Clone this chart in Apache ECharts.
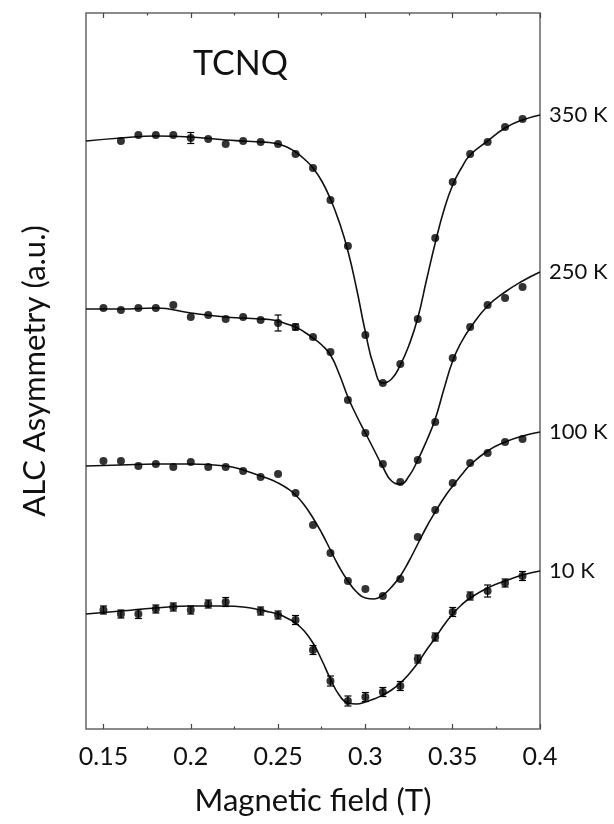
<!DOCTYPE html>
<html>
<head>
<meta charset="utf-8">
<script src="https://cdn.jsdelivr.net/npm/echarts@6/dist/echarts.min.js"></script>
<style>html,body{margin:0;padding:0;background:#fff}#c{width:614px;height:824px}</style>
</head>
<body>
<div id="c"></div>
<script>
// Measured field values (T)
const fieldX = [0.15,0.16,0.17,0.18,0.19,0.20,0.21,0.22,0.23,0.24,0.25,0.26,0.27,0.28,0.29,0.30,0.31,0.32,0.33,0.34,0.35,0.36,0.37,0.38,0.39];
// ALC asymmetry data points (a.u.)
const pts350 = [null,58.8,59.4,59.4,59.4,59.1,59.0,58.5,58.8,58.7,58.5,57.5,56.1,52.9,48.3,39.4,34.6,36.5,41.0,49.1,54.7,57.5,58.7,60.2,61.0];
const pts250 = [42.1,41.9,42.1,42.1,42.4,41.2,41.4,41.0,41.2,40.9,40.6,40.2,39.2,37.7,32.9,29.6,26.5,24.7,26.9,30.7,37.1,40.2,42.4,43.1,44.2];
const pts100 = [26.8,26.8,26.3,26.5,26.2,26.7,26.2,26.2,25.8,25.2,25.5,23.6,20.4,17.6,14.8,14.0,13.3,15.0,19.2,21.9,24.6,26.6,27.6,28.7,29.0];
const pts10  = [11.9,11.5,11.5,12.0,12.2,11.9,12.5,12.7,null,11.8,11.4,10.9,7.9,4.8,2.8,3.2,3.7,4.3,7.0,9.2,11.7,13.3,13.8,14.6,15.3];
// error bars (a.u.)
const err350 = [null,null,null,null,null,0.55,null,null,null,null,null,null,null,null,null,null,null,null,null,null,null,null,null,null,null];
const err250 = [null,null,null,null,null,null,null,null,null,null,0.8,0.3,null,null,null,null,null,null,null,null,null,null,null,null,null];
const err10  = [0.4,0.4,0.45,0.4,0.4,0.4,0.4,0.45,null,0.4,0.4,0.45,0.45,0.5,0.5,0.45,0.45,0.45,0.4,0.4,0.45,0.4,0.6,0.4,0.45];
// fitted curves
const fitX = [0.14,0.16,0.18,0.20,0.22,0.23,0.24,0.245,0.25,0.255,0.26,0.265,0.27,0.275,0.28,0.285,0.29,0.295,0.30,0.305,0.31,0.315,0.32,0.325,0.33,0.335,0.34,0.345,0.35,0.355,0.36,0.37,0.38,0.39,0.40];
const fit350 = [58.8,59.1,59.3,59.2,58.9,58.8,58.7,58.65,58.5,58.2,57.7,57.0,56.1,54.8,53.0,50.7,47.8,44.0,39.7,36.2,34.6,35.0,36.4,38.4,41.1,44.9,48.6,51.9,54.4,56.1,57.4,58.8,60.1,60.9,61.4];
const fit250 = [42.0,42.0,42.1,41.6,41.2,41.1,41.0,40.95,40.8,40.5,40.2,39.7,39.1,38.4,37.4,35.5,33.2,31.3,29.6,27.9,26.2,24.8,24.5,25.3,26.9,28.8,31.0,34.0,36.8,38.7,40.1,42.3,43.7,44.8,45.7];
const fit100 = [26.3,26.4,26.5,26.5,26.3,25.9,25.3,25.0,24.6,24.1,23.4,22.4,21.1,19.6,17.9,16.2,14.8,13.7,13.1,13.0,13.4,14.2,15.3,16.8,18.5,20.2,21.7,23.1,24.3,25.4,26.4,27.8,28.7,29.3,29.7];
const fit10  = [11.5,11.8,12.1,12.3,12.3,12.2,11.9,11.7,11.5,11.1,10.6,9.8,8.6,6.9,5.0,3.4,2.6,2.5,2.7,3.0,3.4,3.9,4.6,5.5,6.6,7.9,9.1,10.4,11.5,12.4,13.1,14.1,14.8,15.4,15.8];
const seriesNames = ['350 K','250 K','100 K','10 K'];
const xTickLabels = [0.15,0.2,0.25,0.3,0.35,0.4];
const xMinorTicks = [0.175,0.225,0.275,0.325,0.375];
const title = 'TCNQ';

const FONT = 'Lato';
const pts = [pts350,pts250,pts100,pts10];
const errs = [err350,err250,null,err10];
const fits = [fit350,fit250,fit100,fit10];

const series = [];
fits.forEach((f,i)=>{
  series.push({
    type:'line', name:seriesNames[i], xAxisIndex:0, yAxisIndex:0,
    data: fitX.map((x,j)=>[x,f[j]]),
    showSymbol:false, smooth:0.5,
    lineStyle:{color:'#111',width:1.6}, z:2,
    endLabel:{show:true, formatter:'{a}', distance:9, color:'#111', fontFamily:FONT, fontSize:22},
    silent:true
  });
});
pts.forEach((p,i)=>{
  const d=[]; fieldX.forEach((x,j)=>{ if(p[j]!=null) d.push([x,p[j]]); });
  series.push({type:'scatter', xAxisIndex:0, yAxisIndex:0, data:d, symbolSize:8,
    itemStyle:{color:'#000'}, z:4, silent:true});
  const e = errs[i];
  if(e){
    const ed=[]; fieldX.forEach((x,j)=>{ if(p[j]!=null && e[j]!=null) ed.push([x,p[j],e[j]]); });
    series.push({type:'custom', xAxisIndex:0, yAxisIndex:0, data:ed, z:3, silent:true,
      renderItem:function(params,api){
        const x=api.value(0), y=api.value(1), er=api.value(2);
        const lo=api.coord([x,y-er]), hi=api.coord([x,y+er]);
        const w=3.5, st={stroke:'#000',lineWidth:1.2};
        return {type:'group',children:[
          {type:'line',shape:{x1:lo[0],y1:lo[1],x2:hi[0],y2:hi[1]},style:st},
          {type:'line',shape:{x1:lo[0]-w,y1:lo[1],x2:lo[0]+w,y2:lo[1]},style:st},
          {type:'line',shape:{x1:hi[0]-w,y1:hi[1],x2:hi[0]+w,y2:hi[1]},style:st}
        ]};
      }});
  }
});

const tickStyle = {color:'#444', width:1.2};
const option = {
  animation:false,
  backgroundColor:'#fff',
  grid:{left:86,right:74,top:13,bottom:95,show:true,borderColor:'#666',borderWidth:1.5,backgroundColor:'transparent'},
  graphic:[{type:'text', left:193, top:47, style:{text:title, fontFamily:FONT, fontSize:34, fill:'#111'}}],
  xAxis:[
    {type:'value', min:0.14, max:0.40, position:'bottom',
     name:'Magnetic field (T)', nameLocation:'middle', nameGap:56,
     nameTextStyle:{fontFamily:FONT, fontSize:31, color:'#111'},
     axisLine:{show:false}, splitLine:{show:false},
     axisTick:{show:true, inside:true, length:5, lineStyle:tickStyle, customValues:xTickLabels},
     axisLabel:{show:true, customValues:xTickLabels, margin:15, fontFamily:FONT, fontSize:25, color:'#111',
       formatter:function(v){return String(+v.toFixed(3));}}},
    {type:'value', min:0.14, max:0.40, position:'bottom',
     axisLine:{show:false}, splitLine:{show:false}, axisLabel:{show:false},
     axisTick:{show:true, inside:true, length:2.5, lineStyle:tickStyle, customValues:xMinorTicks}},
    {type:'value', min:0.14, max:0.40, position:'top',
     axisLine:{show:false}, splitLine:{show:false}, axisLabel:{show:false},
     axisTick:{show:true, inside:true, length:5, lineStyle:tickStyle, customValues:xTickLabels}},
    {type:'value', min:0.14, max:0.40, position:'top',
     axisLine:{show:false}, splitLine:{show:false}, axisLabel:{show:false},
     axisTick:{show:true, inside:true, length:2.5, lineStyle:tickStyle, customValues:xMinorTicks}}
  ],
  yAxis:[{type:'value', min:0, max:71.6,
    name:'ALC Asymmetry (a.u.)', nameLocation:'middle', nameGap:36,
    nameTextStyle:{fontFamily:FONT, fontSize:31, color:'#111'},
    axisLine:{show:false}, axisTick:{show:false}, axisLabel:{show:false}, splitLine:{show:false}}],
  series:series
};
const chart = echarts.init(document.getElementById('c'), null, {renderer:'canvas'});
chart.setOption(option);
</script>
</body>
</html>
